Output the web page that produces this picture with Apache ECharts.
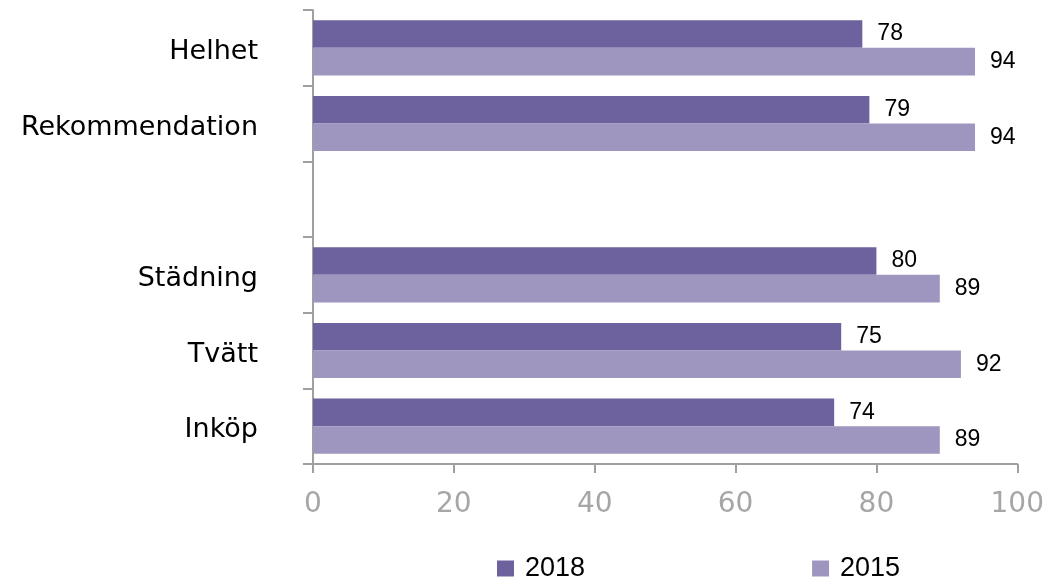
<!DOCTYPE html>
<html><head><meta charset="utf-8">
<script src="https://cdn.jsdelivr.net/npm/echarts@6/dist/echarts.min.js"></script>
<style>html,body{margin:0;padding:0;background:#fff}#c{width:1047px;height:579px}</style>
</head><body><div id="c"></div>
<script>
const categories = ['Helhet', 'Rekommendation', ' ', 'Städning', 'Tvätt', 'Inköp'];
const values2018 = [78, 79, null, 80, 75, 74];
const values2015 = [94, 94, null, 89, 92, 89];
const xTicks = [0, 20, 40, 60, 80, 100];

const chart = echarts.init(document.getElementById('c'));
const labelCfg = {show: true, position: 'right', distance: 15, color: '#000', fontSize: 23, fontFamily: 'Liberation Sans'};
chart.setOption({
  animation: false,
  grid: {left: 313, right: 29, top: 10, bottom: 115, containLabel: false},
  legend: {
    top: 550, left: 492, itemGap: 227, itemWidth: 17, itemHeight: 16, icon: 'rect',
    textStyle: {fontSize: 27, fontFamily: 'Liberation Sans', color: '#000', padding: [0, 0, 0, 6]},
    data: ['2018', '2015']
  },
  xAxis: {
    type: 'value', min: xTicks[0], max: xTicks[xTicks.length - 1], interval: 20,
    axisLine: {show: true, lineStyle: {color: '#a0a0a0', width: 2}},
    axisTick: {show: true, length: 9, lineStyle: {color: '#a0a0a0', width: 2}},
    axisLabel: {color: '#a6a6a6', fontSize: 28, fontFamily: 'DejaVu Sans', margin: 27},
    splitLine: {show: false}
  },
  yAxis: {
    type: 'category', inverse: true, data: categories,
    axisLine: {show: true, lineStyle: {color: '#a0a0a0', width: 2}},
    axisTick: {show: true, length: 10, alignWithLabel: false, lineStyle: {color: '#a0a0a0', width: 2}},
    axisLabel: {
      margin: 55,
      formatter: v => '{c|' + v + '}',
      rich: {c: {color: '#000', fontSize: 27, fontFamily: 'DejaVu Sans', padding: [8, 0, 0, 0]}}
    }
  },
  series: [
    {name: '2018', type: 'bar', data: values2018, barGap: '0%', barCategoryGap: '27%',
     itemStyle: {color: '#6d619e'}, label: labelCfg},
    {name: '2015', type: 'bar', data: values2015, barGap: '0%', barCategoryGap: '27%',
     itemStyle: {color: '#9f96c0'}, label: labelCfg}
  ]
});
</script></body></html>
